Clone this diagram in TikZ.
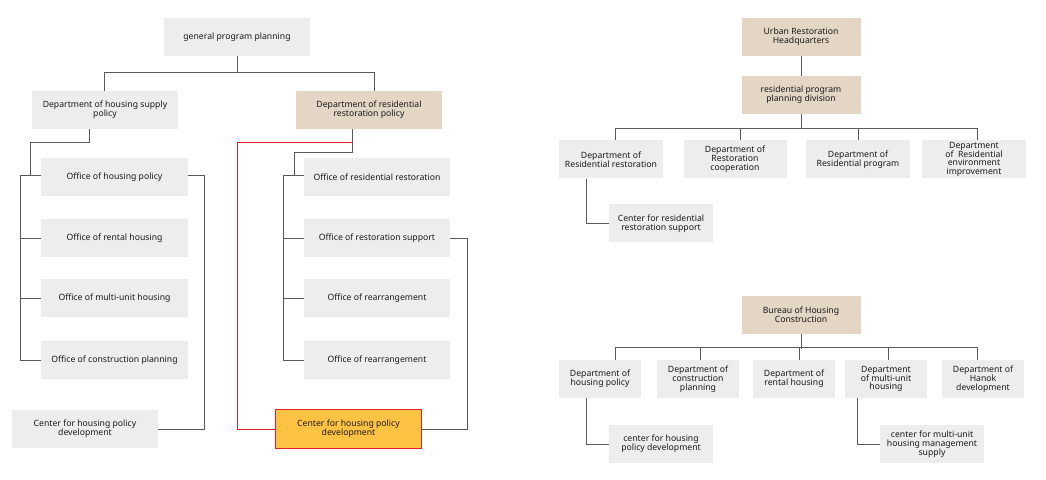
\documentclass[tikz,border=0pt]{standalone}
\usepackage{fontspec}
\setmainfont{Noto Sans}
\definecolor{boxgray}{HTML}{EDEDED}
\definecolor{boxbeige}{HTML}{E3D6C4}
\definecolor{boxyellow}{HTML}{FFC343}
\definecolor{redline}{HTML}{E0202A}
\definecolor{conngray}{HTML}{5A5A5A}
\definecolor{txt}{HTML}{1A1A1A}
\begin{document}
\begin{tikzpicture}[x=1bp,y=-1bp,
  box/.style={fill=boxgray,inner sep=0pt,align=center,text=txt,
    font=\fontsize{8.7}{8.9}\selectfont},
  bw/.style={minimum width=#1bp},
  bh/.style={minimum height=38bp},
  beige/.style={fill=boxbeige},
  hl/.style={fill=boxyellow,draw=redline,line width=1bp},
  conn/.style={draw=conngray,line width=0.9bp},
  rconn/.style={draw=redline,line width=0.9bp}]
\useasboundingbox (0,0) rectangle (1046,480);
% ---- left chart ----
\node[box,bw=146,bh] (gpp) at (237,37) {general program planning};
\node[box,bw=146,bh] (dhs) at (105,110) {Department of housing supply\\policy};
\node[box,beige,bw=146,bh] (drr) at (369,110) {Department of residential\\restoration policy};
\node[box,bw=147,bh] (ohp) at (114.5,177) {Office of housing policy};
\node[box,bw=147,bh] (orh) at (114.5,238) {Office of rental housing};
\node[box,bw=147,bh] (omu) at (114.5,298.5) {Office of multi-unit housing};
\node[box,bw=147,bh] (ocp) at (114.5,360) {Office of construction planning};
\node[box,bw=146,bh] (chp) at (85,429) {Center for housing policy\\development};
\node[box,bw=146,bh] (orr) at (377,177) {Office of residential restoration};
\node[box,bw=146,bh] (ors) at (377,238) {Office of restoration support};
\node[box,bw=146,bh] (ora) at (377,298.5) {Office of rearrangement};
\node[box,bw=146,bh] (orb) at (377,360) {Office of rearrangement};
\node[box,hl,bw=146,minimum height=39bp] (cy) at (348.5,429) {Center for housing policy\\development};
\draw[conn] (gpp.south) -- ++(0,17);
\draw[conn] ([xshift=-1bp]dhs.north) -- ++(0,-18) -| ([xshift=5bp]drr.north);
\draw[conn] ([xshift=-16bp]dhs.south) -- ++(0,13) -| ([xshift=-10bp,yshift=2bp]ohp.west);
\draw[conn] ([yshift=2bp]ohp.west) -- ++(-20,0) |- (ocp.west);
\draw[conn] (orh.west) -- ++(-20,0);
\draw[conn] (omu.west) -- ++(-20,0);
\draw[conn] ([yshift=2bp]ohp.east) -- ++(16,0) |- (chp.east);
\draw[conn] ([xshift=-17bp]drr.south) -- ++(0,23) -| ([xshift=-9bp,yshift=2bp]orr.west);
\draw[conn] ([yshift=2bp]orr.west) -- ++(-20,0) |- (orb.west);
\draw[conn] (ors.west) -- ++(-20,0);
\draw[conn] (ora.west) -- ++(-20,0);
\draw[conn] (ors.east) -- ++(17,0) |- (cy.east);
\draw[rconn] ([xshift=-17bp,yshift=-13bp]drr.south) -| ([xshift=-38bp]cy.west) -- (cy.west);
% ---- right top chart ----
\node[box,beige,bw=119,bh] (hq) at (801,37) {Urban Restoration\\Headquarters};
\node[box,beige,bw=119,bh] (rpd) at (801,95) {residential program\\planning division};
\node[box,bw=104,bh] (d1) at (611,159.5) {Department of\\Residential restoration};
\node[box,bw=103,bh] (d2) at (735,159.5) {Department of\\Restoration\\cooperation};
\node[box,bw=104,bh] (d3) at (858,159.5) {Department of\\Residential program};
\node[box,bw=104,bh] (d4) at (974,159.5) {Department\\of\ \ Residential\\environment\\improvement};
\node[box,bw=104,bh] (crs) at (661,223.5) {Center for residential\\restoration support};
\draw[conn] (hq) -- (rpd);
\draw[conn] (rpd.south) -- ++(0,15);
\draw[conn] ([xshift=4bp]d1.north) -- ++(0,-12) -| ([xshift=3bp]d4.north);
\draw[conn] ([xshift=5bp]d2.north) -- ++(0,-12);
\draw[conn] (d3.north) -- ++(0,-12);
\draw[conn] ([xshift=-25bp]d1.south) |- (crs.west);
% ---- right bottom chart ----
\node[box,beige,bw=119,bh] (bhc) at (801,315) {Bureau of Housing\\Construction};
\node[box,bw=82,bh] (e1) at (600,379) {Department of\\housing policy};
\node[box,bw=82,bh] (e2) at (698,379) {Department of\\construction\\planning};
\node[box,bw=82,bh] (e3) at (794,379) {Department of\\rental housing};
\node[box,bw=82,bh] (e4) at (886,379) {Department\\of multi-unit\\housing};
\node[box,bw=82,bh] (e5) at (983,379) {Department of\\Hanok\\development};
\node[box,bw=104,bh] (chd) at (661,444) {center for housing\\policy development};
\node[box,bw=104,bh] (cmu) at (932,444) {center for multi-unit\\housing management\\supply};
\draw[conn] (bhc.south) -- ++(0,14.5);
\draw[conn] ([xshift=15bp]e1.north) -- ++(0,-12) -| ([xshift=-6bp]e5.north);
\draw[conn] ([xshift=2bp]e2.north) -- ++(0,-12);
\draw[conn] ([xshift=5bp]e3.north) -- ++(0,-12);
\draw[conn] ([xshift=2bp]e4.north) -- ++(0,-12);
\draw[conn] ([xshift=-14bp]e1.south) |- (chd.west);
\draw[conn] ([xshift=-29bp]e4.south) |- (cmu.west);
\end{tikzpicture}
\end{document}
